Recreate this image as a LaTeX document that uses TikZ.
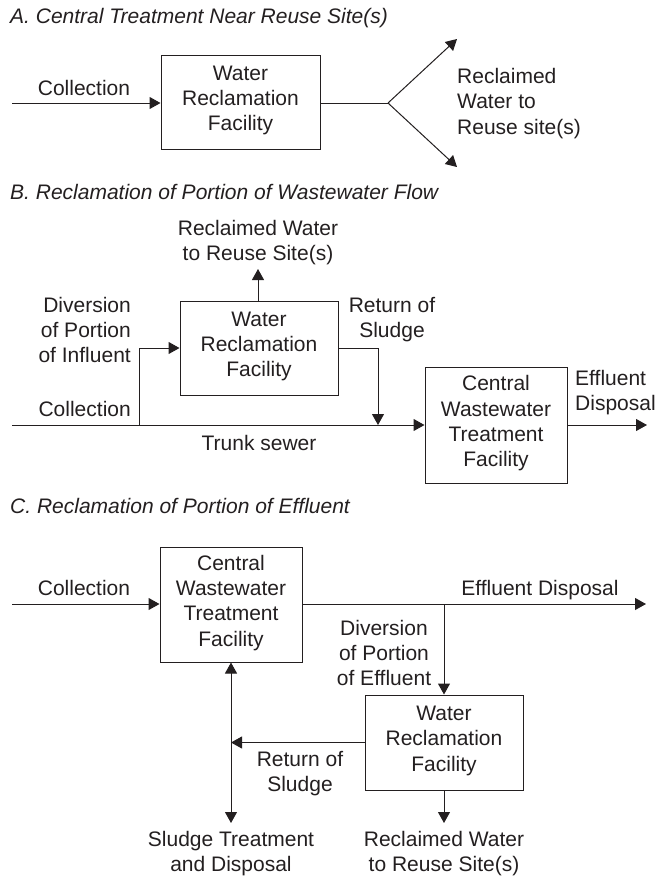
\documentclass[tikz,border=0pt]{standalone}
\usepackage{fontspec}
\setmainfont{Liberation Sans}
\usetikzlibrary{arrows.meta}
\definecolor{ink}{RGB}{35,31,32}
\begin{document}
\begin{tikzpicture}[x=1pt,y=-1pt,
  every node/.style={inner sep=0pt, text=ink, font=\fontsize{21}{25.3}\selectfont,
    execute at begin node=\strut, execute at end node=\strut},
  title/.style={anchor=base west, font=\fontsize{21}{25.3}\selectfont\itshape},
  lbl/.style={align=center},
  box/.style={draw=ink, line width=1pt, align=center},
  wire/.style={draw=ink, line width=1pt},
  arr/.style={wire, -{Triangle[length=11pt,width=12pt]}},
  darr/.style={wire, {Triangle[length=11pt,width=12pt]}-{Triangle[length=11pt,width=12pt]}}]
\useasboundingbox (0,0) rectangle (658,876);

% ---------- A ----------
\node[title] (tA) at (10,23) {A. Central Treatment Near Reuse Site(s)};
\node[box, minimum width=159pt, minimum height=94pt] (A1) at (240.5,102) {Water\\Reclamation\\Facility};
\coordinate (a-in) at (12,103);
\coordinate (a-br) at (388,103);
\coordinate (a-up) at (457,39);
\coordinate (a-dn) at (457,167);
\draw[arr] (a-in) -- (a-in -| A1.west);
\node[lbl] (a-col) at (84,90) {Collection};
\draw[wire] (A1.east |- a-br) -- (a-br);
\draw[arr] (a-br) -- (a-up);
\draw[arr] (a-br) -- (a-dn);
\node[align=left, anchor=west] (a-out) at (457,105) {Reclaimed\\Water to\\Reuse site(s)};

% ---------- B ----------
\node[title] (tB) at (10,199) {B. Reclamation of Portion of Wastewater Flow};
\node[box, minimum width=158pt, minimum height=94pt] (B1) at (259,348) {Water\\Reclamation\\Facility};
\node[box, minimum width=142pt, minimum height=116pt] (B2) at (496,425) {Central\\Wastewater\\Treatment\\Facility};
\coordinate (b-in) at (12,425);
\coordinate (b-div) at (139,425);
\coordinate (b-up) at (258,269);
\coordinate (b-ret) at (378,425);
\coordinate (b-out) at (647,425);
\draw[arr] (b-in) -- (B2.west);
\draw[arr] (b-div) |- (B1.west);
\draw[arr] (B1.north -| b-up) -- (b-up);
\draw[arr] (B1.east) -| (b-ret);
\draw[arr] (B2.east) -- (b-out);
\node[lbl] (b-rw) at (258,244) {Reclaimed Water\\to Reuse Site(s)};
\node[align=right, anchor=east] (b-dv) at (131,333.5) {Diversion\\of Portion\\of Influent};
\node[anchor=east] (b-col) at (131,411.5) {Collection};
\node[lbl] (b-rs) at (392,321) {Return of\\Sludge};
\node[align=left, anchor=west] (b-ed) at (575,394) {Effluent\\Disposal};
\node[lbl] (b-ts) at (259,445) {Trunk sewer};

% ---------- C ----------
\node[title] (tC) at (10,513) {C. Reclamation of Portion of Effluent};
\node[box, minimum width=142pt, minimum height=115pt] (C1) at (231,604.5) {Central\\Wastewater\\Treatment\\Facility};
\node[box, minimum width=158pt, minimum height=95pt] (C2) at (444,742.5) {Water\\Reclamation\\Facility};
\coordinate (c-in) at (12,604);
\coordinate (c-out) at (646,604);
\coordinate (c-br) at (444,604);
\coordinate (c-rw) at (444,823);
\coordinate (c-sl) at (231,823);
\draw[arr] (c-in) -- (c-in -| C1.west);
\draw[arr] (C1.east |- c-out) -- (c-out);
\draw[arr] (c-br) -- (C2.north);
\draw[arr] (C2.south) -- (c-rw);
\draw[darr] (c-sl) -- (C1.south);
\draw[arr] (C2.west) -- (C2.west -| c-sl);
\node[lbl] (c-col) at (84,590) {Collection};
\node[lbl] (c-ed) at (540,590) {Effluent Disposal};
\node[lbl] (c-dv) at (384,656.5) {Diversion\\of Portion\\of Effluent};
\node[lbl] (c-rs) at (300,775) {Return of\\Sludge};
\node[lbl] (c-st) at (231,855) {Sludge Treatment\\and Disposal};
\node[lbl] (c-rwt) at (444,855) {Reclaimed Water\\to Reuse Site(s)};
\end{tikzpicture}
\end{document}
